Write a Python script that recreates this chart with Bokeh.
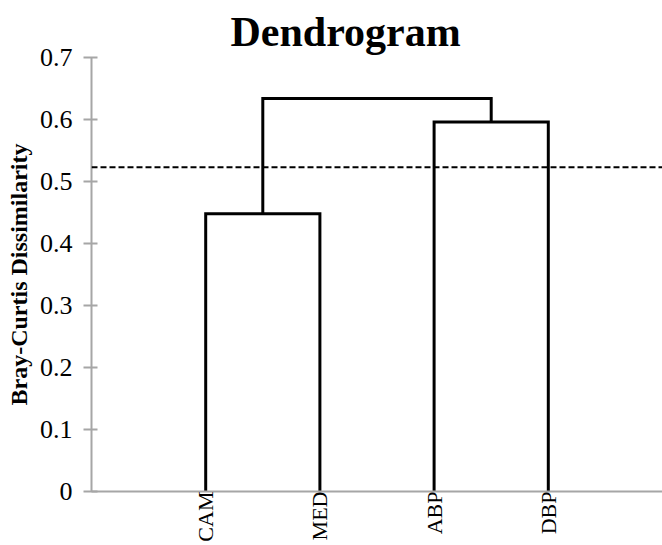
from bokeh.plotting import figure
from bokeh.models import FixedTicker, Span
from bokeh.embed import file_html
from bokeh.resources import INLINE

# ---- data ----
leaves = ["CAM", "MED", "ABP", "DBP"]
leaf_pos = [1, 2, 3, 4]
h_cam_med = 0.448
h_abp_dbp = 0.596
h_top = 0.634
cut_height = 0.523
y_ticks = [0, 0.1, 0.2, 0.3, 0.4, 0.5, 0.6, 0.7]
y_tick_labels = ["0", "0.1", "0.2", "0.3", "0.4", "0.5", "0.6", "0.7"]

SERIF = "Liberation Serif"
GRAY = "#a6a6a6"

p = figure(width=662, height=545, x_range=(0, 5), y_range=(0, 0.7),
           output_backend="svg", toolbar_location=None,
           min_border_left=91, min_border_right=0, min_border_top=57,
           min_border_bottom=54, title="Dendrogram")
p.outline_line_color = None
p.background_fill_color = "white"
p.border_fill_color = "white"

# title
p.title.text_font = SERIF
p.title.text_font_size = "42px"
p.title.text_font_style = "bold"
p.title.align = "left"
p.title.offset = 139
p.title.standoff = 6
p.title.text_color = "black"

# dendrogram links
c1 = (leaf_pos[0] + leaf_pos[1]) / 2
c2 = (leaf_pos[2] + leaf_pos[3]) / 2
xs = [
    [leaf_pos[0], leaf_pos[0], leaf_pos[1], leaf_pos[1]],
    [leaf_pos[2], leaf_pos[2], leaf_pos[3], leaf_pos[3]],
    [c1, c1, c2, c2],
]
ys = [
    [0, h_cam_med, h_cam_med, 0],
    [0, h_abp_dbp, h_abp_dbp, 0],
    [h_cam_med, h_top, h_top, h_abp_dbp],
]
p.multi_line(xs, ys, line_color="black", line_width=3, line_join="miter")

# cut line
p.add_layout(Span(location=cut_height, dimension="width", line_color="black",
                  line_width=2, line_dash="6 3"))

# grids: only top line at 0.7
p.xgrid.visible = False
p.ygrid.ticker = FixedTicker(ticks=[y_ticks[-1]])
p.ygrid.grid_line_color = GRAY
p.ygrid.grid_line_width = 2

# x axis
p.xaxis.ticker = FixedTicker(ticks=leaf_pos)
p.xaxis.major_label_overrides = {pos: name for pos, name in zip(leaf_pos, leaves)}
p.xaxis.major_label_orientation = 3.14159265 / 2
p.xaxis.major_label_text_font = SERIF
p.xaxis.major_label_text_font_size = "22px"
p.xaxis.major_label_text_color = "black"
p.xaxis.major_label_standoff = 0
p.xaxis.major_tick_line_color = None
p.xaxis.major_tick_out = 0
p.xaxis.major_tick_in = 0
p.xaxis.minor_tick_line_color = None
p.xaxis.axis_line_color = GRAY
p.xaxis.axis_line_width = 2

# y axis
p.yaxis.ticker = FixedTicker(ticks=y_ticks)
p.yaxis.major_label_overrides = {t: lab for t, lab in zip(y_ticks, y_tick_labels)}
p.yaxis.major_label_text_font = SERIF
p.yaxis.major_label_text_font_size = "26px"
p.yaxis.major_label_text_color = "black"
p.yaxis.major_label_standoff = 11
p.yaxis.major_tick_out = 8
p.yaxis.major_tick_in = 6
p.yaxis.major_tick_line_color = GRAY
p.yaxis.major_tick_line_width = 2
p.yaxis.minor_tick_line_color = None
p.yaxis.axis_line_color = GRAY
p.yaxis.axis_line_width = 2
p.yaxis.axis_label = "Bray-Curtis Dissimilarity"
p.yaxis.axis_label_text_font = SERIF
p.yaxis.axis_label_text_font_size = "24px"
p.yaxis.axis_label_text_font_style = "bold"
p.yaxis.axis_label_text_color = "black"
p.yaxis.axis_label_standoff = 5

open("out.html", "w").write(file_html(p, INLINE))
